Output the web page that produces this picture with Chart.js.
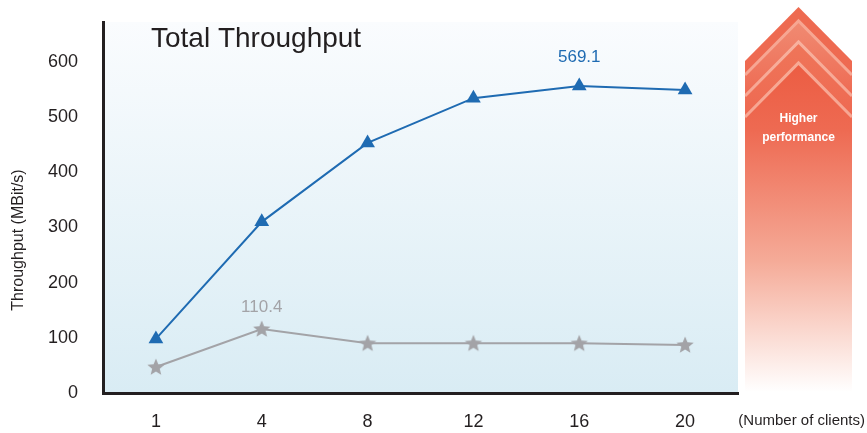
<!DOCTYPE html>
<html>
<head>
    <title>Total Throughput</title>
    <script src="https://cdn.jsdelivr.net/npm/chart.js@4.4.1/dist/chart.umd.min.js"></script>
    <style>
        body {
            margin: 0;
            background: #ffffff;
        }

        #wrap {
            width: 867px;
            height: 433px;
        }
    </style>
</head>
<body>
    <div id="wrap">
        <canvas id="tpChart" width="867" height="433"></canvas>
    </div>

    <script>
        // data
        const clients = ['1', '4', '8', '12', '16', '20'];
        const blueSeries = [98, 310, 453, 534, 556, 549];
        const graySeries = [47, 116, 90, 90, 90, 87];
        const blueNotes = ['', '', '', '', '569.1', ''];
        const grayNotes = ['', '110.4', '', '', '', ''];
        const yTicks = [0, 100, 200, 300, 400, 500, 600];

        const FONT = '"Liberation Sans", Arial, sans-serif';
        const DARK = '#231f20';
        const BLUE = '#1f6bb2';
        const GRAY = '#a3a3a7';

        // filled star marker
        function makeStar(color) {
            let c = document.createElement('canvas');
            c.width = 20;
            c.height = 20;
            let g = c.getContext('2d');
            g.fillStyle = color;
            g.beginPath();
            for (let i = 0; i < 10; i++) {
                let r = i % 2 === 0 ? 9 : 4;
                let a = -Math.PI / 2 + i * Math.PI / 5;
                let px = 10 + r * Math.cos(a);
                let py = 10.5 + r * Math.sin(a);
                if (i === 0) g.moveTo(px, py); else g.lineTo(px, py);
            }
            g.closePath();
            g.fill();
            return c;
        }

        // plot background gradient
        const plotBg = {
            id: 'plotBg',
            beforeDraw(chart) {
                const { ctx, chartArea: a } = chart;
                let grad = ctx.createLinearGradient(0, a.top, 0, a.bottom);
                grad.addColorStop(0, '#fafcfe');
                grad.addColorStop(1, '#d9ecf4');
                ctx.save();
                ctx.fillStyle = grad;
                ctx.fillRect(a.left, a.top, a.right - a.left, a.bottom - a.top);
                ctx.restore();
            }
        };

        // extra texts, value notes and the arrow on the right
        const extras = {
            id: 'extras',
            afterDraw(chart) {
                const ctx = chart.ctx;
                ctx.save();

                // title inside the plot
                ctx.fillStyle = DARK;
                ctx.font = '28px ' + FONT;
                ctx.textAlign = 'left';
                ctx.textBaseline = 'middle';
                ctx.fillText('Total Throughput', 151, 39);

                // y axis title
                ctx.save();
                ctx.translate(19, 240);
                ctx.rotate(-Math.PI / 2);
                ctx.font = '16px ' + FONT;
                ctx.textAlign = 'center';
                ctx.fillText('Throughput (MBit/s)', 0, 0);
                ctx.restore();

                // x axis title
                ctx.font = '15px ' + FONT;
                ctx.textAlign = 'right';
                ctx.fillText('(Number of clients)', 865, 421);

                // notes above points
                ctx.font = '17px ' + FONT;
                ctx.textAlign = 'center';
                [[0, blueNotes, BLUE, 29], [1, grayNotes, GRAY, 22]].forEach(([di, notes, col, off]) => {
                    let meta = chart.getDatasetMeta(di);
                    ctx.fillStyle = col;
                    notes.forEach((t, i) => {
                        if (!t) return;
                        let p = meta.data[i];
                        ctx.fillText(t, p.x, p.y - off);
                    });
                });

                // arrow
                let L = 745, R = 852, mid = (L + R) / 2;
                let layers = [
                    [7, '#ee6a50'],
                    [23, '#f08a72'],
                    [44, '#ef7559'],
                    [65, '#ec5d43']
                ];
                layers.forEach(([tip, col], k) => {
                    ctx.beginPath();
                    ctx.moveTo(mid, tip);
                    ctx.lineTo(R, tip + 54);
                    ctx.lineTo(R, 392);
                    ctx.lineTo(L, 392);
                    ctx.lineTo(L, tip + 54);
                    ctx.closePath();
                    let g = ctx.createLinearGradient(0, tip, 0, 392);
                    g.addColorStop(0, col);
                    g.addColorStop(0.2, '#ee6a52');
                    g.addColorStop(0.6, '#f5ab98');
                    g.addColorStop(1, '#ffffff');
                    ctx.fillStyle = g;
                    ctx.fill();
                    if (k > 0) {
                        ctx.strokeStyle = 'rgba(255,225,212,0.5)';
                        ctx.lineWidth = 3;
                        ctx.beginPath();
                        ctx.moveTo(L, tip + 52);
                        ctx.lineTo(mid, tip - 2);
                        ctx.lineTo(R, tip + 52);
                        ctx.stroke();
                    }
                });

                ctx.fillStyle = '#ffffff';
                ctx.font = 'bold 12px ' + FONT;
                ctx.textAlign = 'center';
                ctx.fillText('Higher', mid, 119);
                ctx.fillText('performance', mid, 138);

                ctx.restore();
            }
        };

        new Chart(document.getElementById('tpChart'), {
            type: 'line',
            data: {
                labels: clients,
                datasets: [{
                    label: 'Blue',
                    data: blueSeries,
                    borderColor: BLUE,
                    backgroundColor: BLUE,
                    borderWidth: 2,
                    pointStyle: 'triangle',
                    pointRadius: 8.5,
                    pointBorderWidth: 0,
                    tension: 0
                }, {
                    label: 'Gray',
                    data: graySeries,
                    borderColor: GRAY,
                    backgroundColor: GRAY,
                    borderWidth: 2,
                    pointStyle: makeStar(GRAY),
                    tension: 0
                }]
            },
            options: {
                responsive: false,
                animation: false,
                layout: {
                    padding: { left: 0, top: 22, right: 129, bottom: 0 }
                },
                plugins: {
                    legend: { display: false },
                    tooltip: { enabled: false }
                },
                scales: {
                    x: {
                        offset: true,
                        grid: { display: false },
                        border: { display: true, color: DARK, width: 3 },
                        ticks: {
                            color: DARK,
                            font: { family: FONT, size: 18 },
                            padding: 10
                        },
                        afterFit(s) { s.height = 40; }
                    },
                    y: {
                        min: 0,
                        max: 672,
                        grid: { display: false },
                        border: { display: true, color: DARK, width: 3 },
                        ticks: {
                            color: DARK,
                            font: { family: FONT, size: 18 },
                            padding: 17
                        },
                        afterBuildTicks(s) {
                            s.ticks = yTicks.map(v => ({ value: v }));
                        },
                        afterFit(s) {
                            s.width = 103;
                            s.paddingTop = 0;
                            s.paddingBottom = 0;
                        }
                    }
                }
            },
            plugins: [plotBg, extras]
        });
    </script>
</body>
</html>
